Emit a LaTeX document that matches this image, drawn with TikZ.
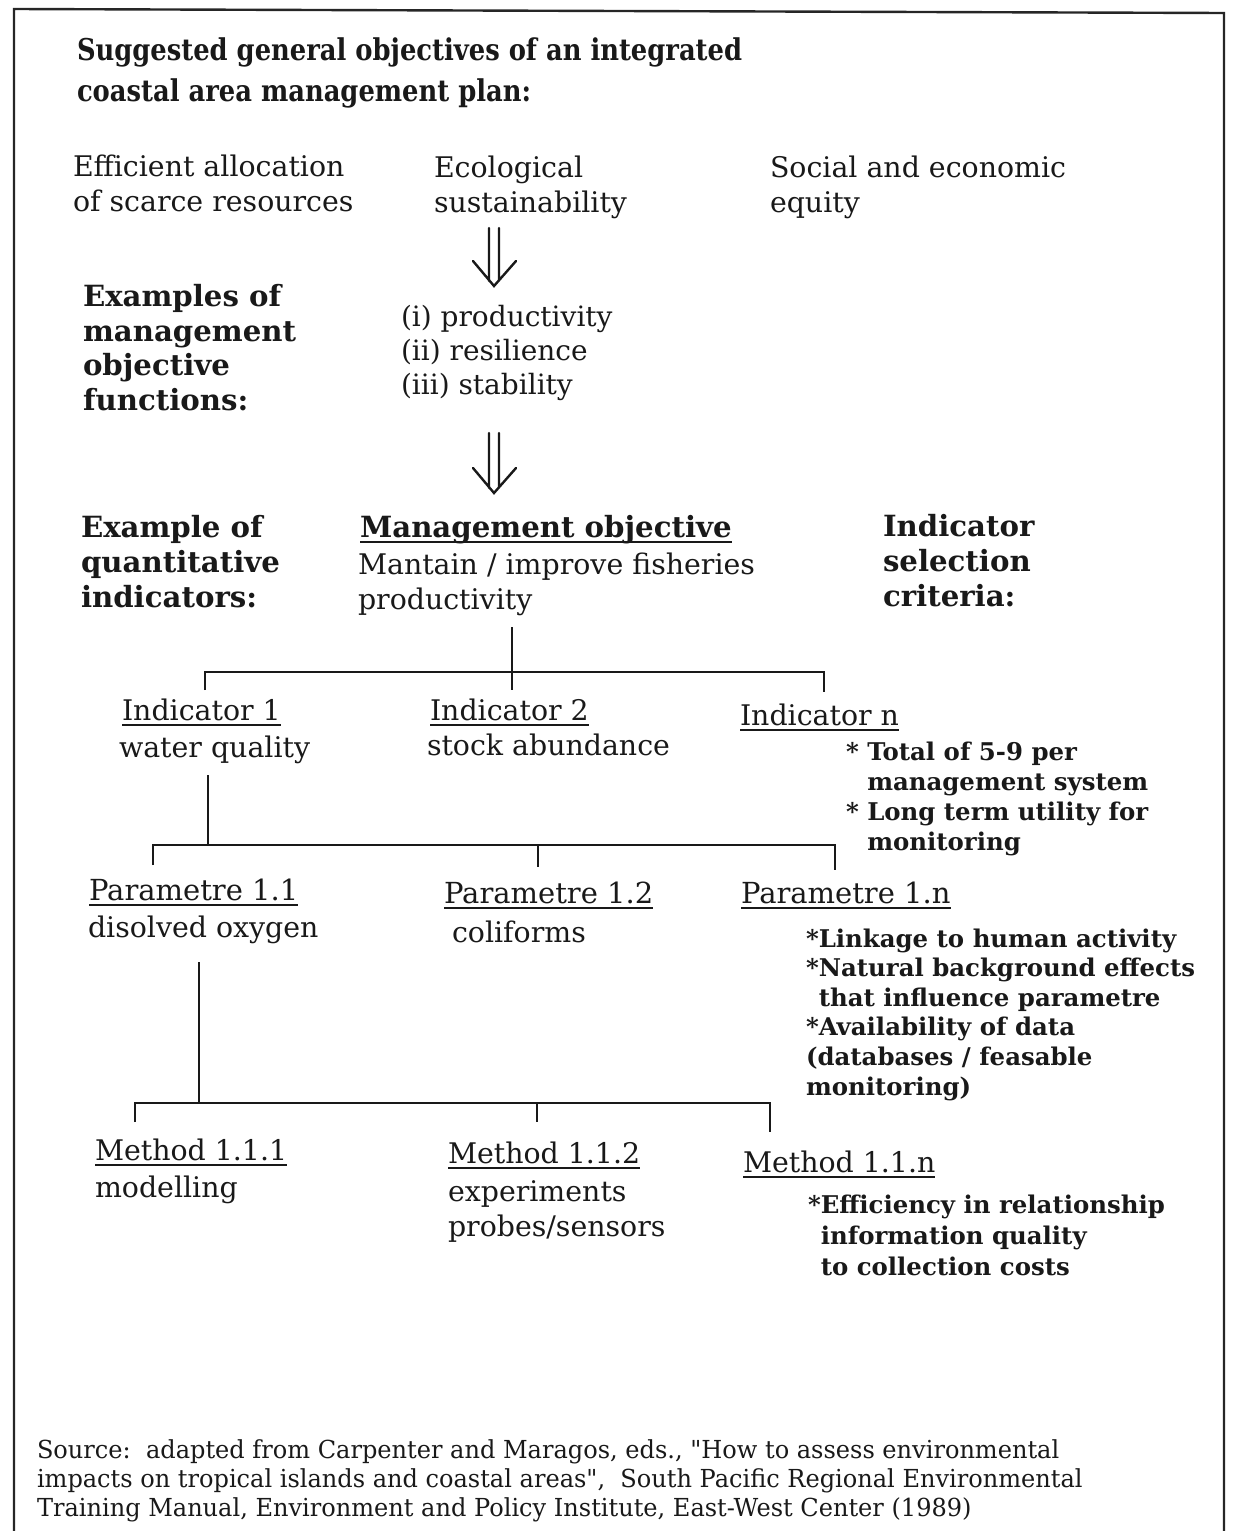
\documentclass[tikz,border=0pt]{standalone}
\usepackage{fontspec}
\setmainfont{DejaVu Serif}
\newfontfamily\titlefont[FakeStretch=0.86]{DejaVu Serif}
\newfontfamily\srcfont[FakeStretch=0.97]{DejaVu Serif}
% underline drawn at a fixed depth below the baseline
\newcommand\ulbox[1]{{\setbox0\hbox{#1}\rlap{\rule[-2.9pt]{\wd0}{0.9pt}}\box0}}
\begin{document}
% multi-line texts are placed by the baseline of their last line
\begin{tikzpicture}[x=0.5pt,y=-0.5pt,
  every node/.style={inner sep=0pt,outer sep=0pt,anchor=base west,align=left,text=black!90},
  plain/.style={font=\fontsize{14.2}{17.3}\selectfont},
  head/.style={font=\fontsize{14.6}{17.2}\selectfont\bfseries},
  crit/.style={font=\fontsize{12.2}{15}\selectfont\bfseries},
  ttl/.style={font=\fontsize{15}{20.5}\selectfont\titlefont\bfseries},
  src/.style={font=\fontsize{12.4}{14.5}\selectfont\srcfont},
  frame/.style={line width=1.2pt,black!85},
  tree/.style={line width=1.3pt,black!90},
  dblarrow/.style={line width=1.2pt,black!90,line cap=round}]
\useasboundingbox (0,0) rectangle (1233,1531);

% outer frame, open at the bottom
\draw[frame] (14,1531) -- (14,9) -- (1224,13) -- (1224,1531);

% heading
\node[ttl] (title) at (77,101) {Suggested general objectives of an integrated\\coastal area management plan:};

% general objectives
\node[plain] (o1) at (73,211) {Efficient allocation\\of scarce resources};
\node[plain] (o2) at (434,212) {Ecological\\sustainability};
\node[plain] (o3) at (770,212) {Social and economic\\equity};

% first double-stem arrow
\coordinate (a1l) at (489,228); \coordinate (a1lb) at (489,281);
\coordinate (a1r) at (499,228); \coordinate (a1rb) at (499,281);
\coordinate (a1hl) at (473,261); \coordinate (a1tip) at (494,286); \coordinate (a1hr) at (516,261);
\draw[dblarrow] (a1l) -- (a1lb) (a1r) -- (a1rb) (a1hl) -- (a1tip) -- (a1hr);

% management objective functions
\node[head] (lab1) at (83,410) {Examples of\\management\\objective\\functions:};
\node[plain,font=\fontsize{14}{17}\selectfont] (funcs) at (401,394) {(i) productivity\\(ii) resilience\\(iii) stability};

% second double-stem arrow
\coordinate (a2l) at (489,433); \coordinate (a2lb) at (489,488);
\coordinate (a2r) at (499,433); \coordinate (a2rb) at (499,488);
\coordinate (a2hl) at (473,468); \coordinate (a2tip) at (494,493); \coordinate (a2hr) at (516,468);
\draw[dblarrow] (a2l) -- (a2lb) (a2r) -- (a2rb) (a2hl) -- (a2tip) -- (a2hr);

% indicators row headings
\node[head,font=\fontsize{14.6}{17.5}\selectfont\bfseries] (lab2) at (81,607) {Example of\\quantitative\\indicators:};
\node[head] (mohead) at (360,537) {\ulbox{Management objective}};
\node[plain] (mo) at (358,609) {Mantain / improve fisheries\\productivity};
\node[head,font=\fontsize{14.6}{17.3}\selectfont\bfseries] (lab3) at (883,606) {Indicator\\selection\\criteria:};

% tree: objective -> indicators
\coordinate (s1a) at (512,627); \coordinate (s1b) at (512,690);
\coordinate (h1l) at (205,672); \coordinate (h1r) at (824,672);
\coordinate (d1l) at (205,690); \coordinate (d1r) at (824,692);
\draw[tree] (s1a) -- (s1b);
\draw[tree] (d1l) -- (h1l) -- (h1r) -- (d1r);

\node[plain] (ind1h) at (122,720) {\ulbox{Indicator 1}};
\node[plain] (ind1t) at (119,757) {water quality};
\node[plain] (ind2h) at (430,720) {\ulbox{Indicator 2}};
\node[plain] (ind2t) at (427,755) {stock abundance};
\node[plain] (indnh) at (740,725) {\ulbox{Indicator n}};
\node[crit] (crit1) at (846,850) {* Total of 5-9 per\\\phantom{* }management system\\* Long term utility for\\\phantom{* }monitoring};

% tree: indicator 1 -> parametres
\coordinate (s2a) at (208,775); \coordinate (s2b) at (208,845);
\coordinate (h2l) at (153,845); \coordinate (h2r) at (835,845);
\coordinate (d2l) at (153,865); \coordinate (m2) at (538,845);
\coordinate (d2m) at (538,867); \coordinate (d2r) at (835,870);
\draw[tree] (s2a) -- (s2b);
\draw[tree] (d2l) -- (h2l) -- (h2r) -- (d2r);
\draw[tree] (m2) -- (d2m);

\node[plain,font=\fontsize{14.5}{17.3}\selectfont] (p11h) at (89,900) {\ulbox{Parametre 1.1}};
\node[plain] (p11t) at (88,937) {disolved oxygen};
\node[plain,font=\fontsize{14.5}{17.3}\selectfont] (p12h) at (444,903) {\ulbox{Parametre 1.2}};
\node[plain] (p12t) at (452,942) {coliforms};
\node[plain,font=\fontsize{14.5}{17.3}\selectfont] (p1nh) at (741,903) {\ulbox{Parametre 1.n}};
\node[crit,font=\fontsize{12.2}{14.8}\selectfont\bfseries] (crit2) at (806,1095) {*Linkage to human activity\\*Natural background effects\\\phantom{*}that influence parametre\\*Availability of data\\(databases / feasable\\monitoring)};

% tree: parametre 1.1 -> methods
\coordinate (s3a) at (199,962); \coordinate (s3b) at (199,1103);
\coordinate (h3l) at (135,1103); \coordinate (h3r) at (770,1103);
\coordinate (d3l) at (135,1122); \coordinate (m3) at (537,1103);
\coordinate (d3m) at (537,1122); \coordinate (d3r) at (770,1132);
\draw[tree] (s3a) -- (s3b);
\draw[tree] (d3l) -- (h3l) -- (h3r) -- (d3r);
\draw[tree] (m3) -- (d3m);

\node[plain] (m111h) at (95,1160) {\ulbox{Method 1.1.1}};
\node[plain] (m111t) at (95,1197) {modelling};
\node[plain] (m112h) at (448,1163) {\ulbox{Method 1.1.2}};
\node[plain,font=\fontsize{14.2}{17.5}\selectfont] (m112t) at (448,1236) {experiments\\probes/sensors};
\node[plain] (m11nh) at (743,1172) {\ulbox{Method 1.1.n}};
\node[crit,font=\fontsize{12.2}{15.5}\selectfont\bfseries] (crit3) at (808,1275) {*Efficiency in relationship\\\phantom{*}information quality\\\phantom{*}to collection costs};

% source note
\node[src] (source) at (37,1516) {Source:\ \ adapted from Carpenter and Maragos, eds., "How to assess environmental\\impacts on tropical islands and coastal areas",\ \ South Pacific Regional Environmental\\Training Manual, Environment and Policy Institute, East-West Center (1989)};
\end{tikzpicture}
\end{document}
